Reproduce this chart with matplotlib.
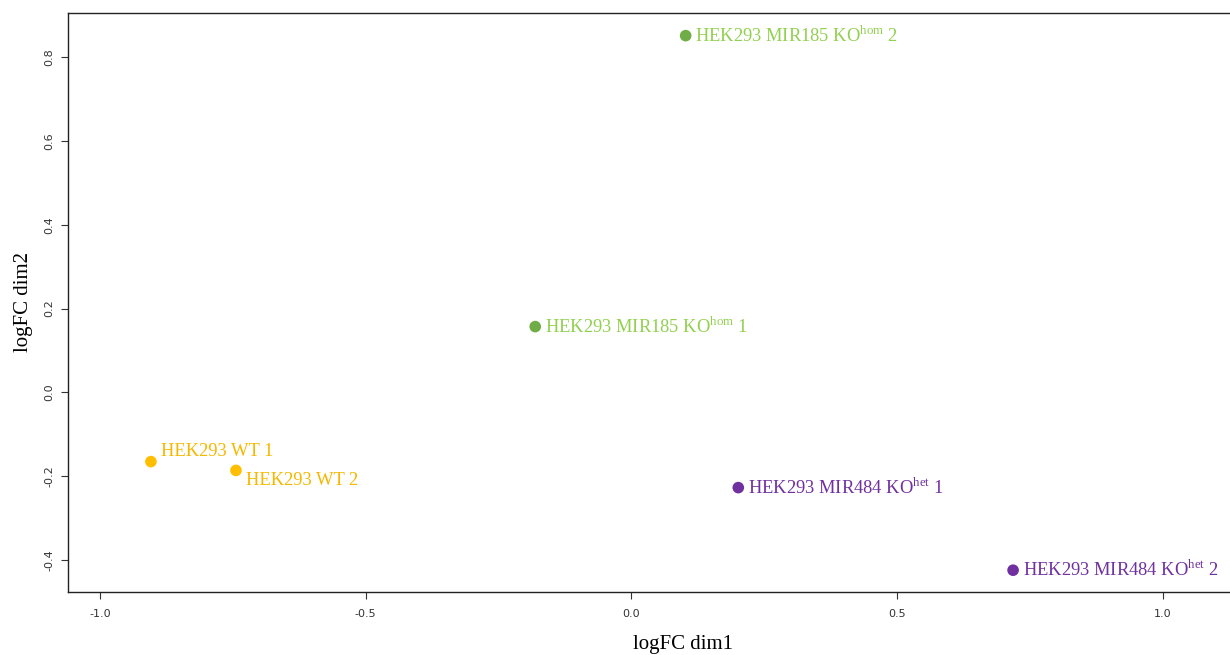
import matplotlib
matplotlib.use("Agg")
import matplotlib.pyplot as plt

plt.rcParams['mathtext.fontset'] = 'custom'
plt.rcParams['mathtext.rm'] = 'Liberation Serif'

# MDS coordinates
samples = ["WT 1", "WT 2", "MIR185 1", "MIR185 2", "MIR484 1", "MIR484 2"]
labels = [
    "HEK293 WT 1",
    "HEK293 WT 2",
    r"HEK293 MIR185 KO$^{\mathrm{hom}}$ 1",
    r"HEK293 MIR185 KO$^{\mathrm{hom}}$ 2",
    r"HEK293 MIR484 KO$^{\mathrm{het}}$ 1",
    r"HEK293 MIR484 KO$^{\mathrm{het}}$ 2",
]
dim1 = [-0.904, -0.744, -0.181, 0.102, 0.201, 0.718]
dim2 = [-0.165, -0.186, 0.157, 0.851, -0.227, -0.424]

point_colors = ["#FFBF00", "#FFBF00", "#70AD47", "#70AD47", "#7030A0", "#7030A0"]
text_colors = ["#F5B800", "#F5B800", "#92D050", "#92D050", "#7030A0", "#7030A0"]
# label offsets in points (dx, dy)
offsets = [(7, 7), (7, -7), (7, 0), (7, 0), (7, 0), (7, 0)]

fig = plt.figure(figsize=(12.3, 6.55), dpi=100)
ax = fig.add_axes([68 / 1230, 1 - 592 / 655, 1.0, (592 - 13) / 655])

ax.scatter(dim1, dim2, c=point_colors, s=70, zorder=3, linewidths=0)
for x, y, lab, col, off in zip(dim1, dim2, labels, text_colors, offsets):
    ax.annotate(lab, (x, y), xytext=off, textcoords="offset points",
                ha="left", va="center", color=col,
                family="Liberation Serif", fontsize=13.3)

ax.set_xlim(-1.060, 1.254)
ax.set_ylim(-0.476, 0.905)
ax.set_xticks([-1.0, -0.5, 0.0, 0.5, 1.0])
ax.set_yticks([-0.4, -0.2, 0.0, 0.2, 0.4, 0.6, 0.8])
ax.set_xticklabels(["-1.0", "-0.5", "0.0", "0.5", "1.0"])
ax.set_yticklabels(["-0.4", "-0.2", "0.0", "0.2", "0.4", "0.6", "0.8"],
                   rotation=90, va="center")
ax.tick_params(labelsize=8, colors="#333333", length=5, width=0.8)
ax.tick_params(axis="x", pad=7)
ax.tick_params(axis="y", pad=5)
for s in ax.spines.values():
    s.set_linewidth(1.0)
    s.set_color("#222222")
ax.spines["right"].set_visible(False)

ax.set_xlabel("logFC dim1", family="Liberation Serif", fontsize=15, labelpad=12)
ax.set_ylabel("logFC dim2", family="Liberation Serif", fontsize=15, labelpad=8)

fig.savefig("out.png", dpi=100)
